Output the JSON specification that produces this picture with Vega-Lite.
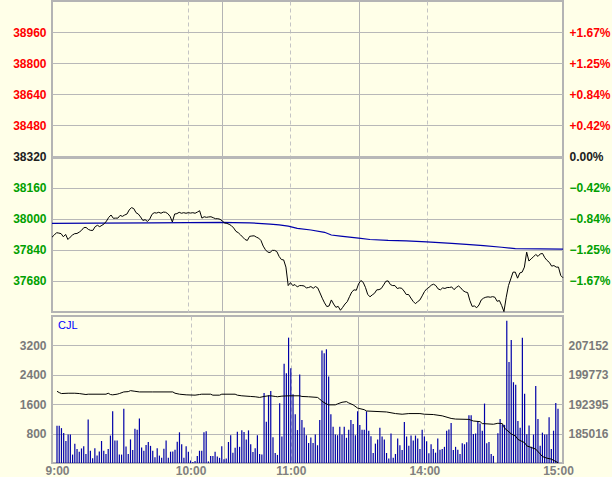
{
  "$schema": "https://vega.github.io/schema/vega-lite/v6.json",
  "background": "#FFFFE8",
  "padding": {"left": 11, "top": 0, "right": 0, "bottom": 0},
  "spacing": 0,
  "config": {
    "view": {"stroke": "#B4B4B4", "strokeWidth": 2, "fill": "#FFFFE8"},
    "font": "Liberation Sans",
    "axis": {"labelFont": "Liberation Sans", "labelFontSize": 12, "labelFontWeight": "bold", "ticks": false, "tickSize": 0, "domain": false, "title": null, "labelOverlap": false, "labelFlush": false, "labelPadding": 6}
  },
  "datasets": {
    "price": [
      {"m":0,"p":37905},{"m":1,"p":37916},{"m":2,"p":37928},{"m":3,"p":37926},{"m":4,"p":37923},{"m":5,"p":37907},{"m":6,"p":37919},{"m":7,"p":37893},{"m":8,"p":37905},{"m":9,"p":37916},
      {"m":10,"p":37923},{"m":11,"p":37924},{"m":12,"p":37931},{"m":13,"p":37940},{"m":14,"p":37954},{"m":15,"p":37955},{"m":16,"p":37945},{"m":17,"p":37940},{"m":18,"p":37940},{"m":19,"p":37959},
      {"m":20,"p":37966},{"m":21,"p":37959},{"m":22,"p":37966},{"m":23,"p":37974},{"m":24,"p":37988},{"m":25,"p":38007},{"m":26,"p":38019},{"m":27,"p":38002},{"m":28,"p":38003},{"m":29,"p":38003},
      {"m":30,"p":38017},{"m":31,"p":38012},{"m":32,"p":38019},{"m":33,"p":38024},{"m":34,"p":38045},{"m":35,"p":38057},{"m":36,"p":38052},{"m":37,"p":38031},{"m":38,"p":38024},{"m":39,"p":38009},
      {"m":40,"p":37991},{"m":41,"p":37995},{"m":42,"p":37986},{"m":43,"p":37997},{"m":44,"p":38022},{"m":45,"p":38031},{"m":46,"p":38029},{"m":47,"p":38033},{"m":48,"p":38028},{"m":49,"p":38034},
      {"m":50,"p":38033},{"m":51,"p":38026},{"m":52,"p":38012},{"m":53,"p":37983},{"m":54,"p":38024},{"m":55,"p":38026},{"m":56,"p":38033},{"m":57,"p":38028},{"m":58,"p":38031},{"m":59,"p":38028},
      {"m":60,"p":38031},{"m":61,"p":38029},{"m":62,"p":38031},{"m":63,"p":38028},{"m":64,"p":38034},{"m":65,"p":38041},{"m":66,"p":38003},{"m":67,"p":38010},{"m":68,"p":38007},{"m":69,"p":38009},
      {"m":70,"p":38010},{"m":71,"p":38005},{"m":72,"p":38000},{"m":73,"p":38000},{"m":74,"p":37997},{"m":75,"p":37988},{"m":76,"p":37978},{"m":77,"p":37976},{"m":78,"p":37971},{"m":79,"p":37964},
      {"m":80,"p":37952},{"m":81,"p":37935},{"m":82,"p":37928},{"m":83,"p":37917},{"m":84,"p":37905},{"m":85,"p":37893},{"m":86,"p":37888},{"m":87,"p":37909},{"m":88,"p":37911},{"m":89,"p":37912},
      {"m":90,"p":37905},{"m":91,"p":37900},{"m":92,"p":37888},{"m":93,"p":37859},{"m":94,"p":37840},{"m":95,"p":37828},{"m":96,"p":37826},{"m":97,"p":37837},{"m":98,"p":37837},{"m":99,"p":37831},
      {"m":100,"p":37806},{"m":101,"p":37790},{"m":102,"p":37788},{"m":103,"p":37751},{"m":104,"p":37656},{"m":105,"p":37671},{"m":106,"p":37656},{"m":107,"p":37661},{"m":108,"p":37649},{"m":109,"p":37656},
      {"m":110,"p":37656},{"m":111,"p":37654},{"m":112,"p":37644},{"m":113,"p":37646},{"m":114,"p":37651},{"m":115,"p":37642},{"m":116,"p":37651},{"m":117,"p":37644},{"m":118,"p":37618},{"m":119,"p":37591},
      {"m":120,"p":37567},{"m":121,"p":37548},{"m":122,"p":37551},{"m":123,"p":37582},{"m":124,"p":37561},{"m":125,"p":37544},{"m":126,"p":37549},{"m":127,"p":37529},{"m":128,"p":37544},{"m":129,"p":37561},
      {"m":130,"p":37573},{"m":131,"p":37599},{"m":132,"p":37623},{"m":133,"p":37634},{"m":134,"p":37632},{"m":135,"p":37665},{"m":136,"p":37682},{"m":137,"p":37673},{"m":138,"p":37647},{"m":139,"p":37611},
      {"m":140,"p":37598},{"m":141,"p":37608},{"m":142,"p":37616},{"m":143,"p":37634},{"m":144,"p":37635},{"m":145,"p":37641},{"m":146,"p":37659},{"m":147,"p":37678},{"m":148,"p":37680},{"m":149,"p":37661},
      {"m":150,"p":37656},{"m":151,"p":37656},{"m":152,"p":37641},{"m":153,"p":37644},{"m":154,"p":37642},{"m":155,"p":37628},{"m":156,"p":37610},{"m":157,"p":37610},{"m":158,"p":37592},{"m":159,"p":37575},
      {"m":160,"p":37563},{"m":161,"p":37573},{"m":162,"p":37582},{"m":163,"p":37603},{"m":164,"p":37625},{"m":165,"p":37639},{"m":166,"p":37647},{"m":167,"p":37658},{"m":168,"p":37663},{"m":169,"p":37656},
      {"m":170,"p":37639},{"m":171,"p":37634},{"m":172,"p":37644},{"m":173,"p":37641},{"m":174,"p":37646},{"m":175,"p":37646},{"m":176,"p":37649},{"m":177,"p":37635},{"m":178,"p":37646},{"m":179,"p":37654},
      {"m":180,"p":37644},{"m":181,"p":37630},{"m":182,"p":37623},{"m":183,"p":37620},{"m":184,"p":37579},{"m":185,"p":37549},{"m":186,"p":37551},{"m":187,"p":37542},{"m":188,"p":37556},{"m":189,"p":37582},
      {"m":190,"p":37591},{"m":191,"p":37596},{"m":192,"p":37598},{"m":193,"p":37596},{"m":194,"p":37599},{"m":195,"p":37596},{"m":196,"p":37575},{"m":197,"p":37579},{"m":198,"p":37553},{"m":199,"p":37522},
      {"m":200,"p":37596},{"m":201,"p":37656},{"m":202,"p":37690},{"m":203,"p":37725},{"m":204,"p":37725},{"m":205,"p":37694},{"m":206,"p":37721},{"m":207,"p":37725},{"m":208,"p":37751},{"m":209,"p":37828},
      {"m":210,"p":37782},{"m":211,"p":37794},{"m":212,"p":37804},{"m":213,"p":37816},{"m":214,"p":37806},{"m":215,"p":37819},{"m":216,"p":37821},{"m":217,"p":37799},{"m":218,"p":37785},{"m":219,"p":37775},
      {"m":220,"p":37756},{"m":221,"p":37759},{"m":222,"p":37751},{"m":223,"p":37751},{"m":224,"p":37708},{"m":225,"p":37696}
    ],
    "avg": [
      {"m":0,"a":37976},{"m":20,"a":37977},{"m":44,"a":37979},{"m":75,"a":37981},{"m":80,"a":37980},{"m":87,"a":37979},{"m":96,"a":37972},{"m":100,"a":37968},{"m":104,"a":37962},{"m":108,"a":37950},
      {"m":114,"a":37942},{"m":120,"a":37930},{"m":123,"a":37916},{"m":127,"a":37910},{"m":135,"a":37900},{"m":140,"a":37893},{"m":148,"a":37888},{"m":156,"a":37886},{"m":165,"a":37881},{"m":176,"a":37873},
      {"m":184,"a":37867},{"m":190,"a":37861},{"m":198,"a":37853},{"m":204,"a":37846},{"m":215,"a":37845},{"m":225,"a":37843}
    ],
    "vol": [
      {"m":0,"v":1011},{"m":1,"v":1011},{"m":2,"v":949},{"m":3,"v":817},{"m":4,"v":598},{"m":5,"v":774},{"m":6,"v":774},{"m":7,"v":229},{"m":8,"v":527},{"m":9,"v":378},
      {"m":10,"v":308},{"m":11,"v":396},{"m":12,"v":457},{"m":13,"v":246},{"m":14,"v":1187},{"m":15,"v":334},{"m":16,"v":132},{"m":17,"v":404},{"m":18,"v":202},{"m":19,"v":316},
      {"m":20,"v":598},{"m":21,"v":334},{"m":22,"v":246},{"m":23,"v":378},{"m":24,"v":747},{"m":25,"v":1406},{"m":26,"v":615},{"m":27,"v":615},{"m":28,"v":229},{"m":29,"v":229},
      {"m":30,"v":1477},{"m":31,"v":448},{"m":32,"v":246},{"m":33,"v":642},{"m":34,"v":352},{"m":35,"v":932},{"m":36,"v":905},{"m":37,"v":1213},{"m":38,"v":422},{"m":39,"v":334},
      {"m":40,"v":492},{"m":41,"v":571},{"m":42,"v":466},{"m":43,"v":334},{"m":44,"v":158},{"m":45,"v":404},{"m":46,"v":202},{"m":47,"v":141},{"m":48,"v":387},{"m":49,"v":615},
      {"m":50,"v":141},{"m":51,"v":308},{"m":52,"v":316},{"m":53,"v":360},{"m":54,"v":580},{"m":55,"v":835},{"m":56,"v":510},{"m":57,"v":141},{"m":58,"v":457},{"m":59,"v":308},
      {"m":60,"v":70},{"m":61,"v":26},{"m":62,"v":53},{"m":63,"v":193},{"m":64,"v":334},{"m":65,"v":334},{"m":66,"v":835},{"m":67,"v":861},{"m":68,"v":44},{"m":69,"v":193},
      {"m":70,"v":193},{"m":71,"v":308},{"m":72,"v":176},{"m":73,"v":141},{"m":74,"v":457},{"m":75,"v":105},{"m":76,"v":123},{"m":77,"v":571},{"m":78,"v":756},{"m":79,"v":281},
      {"m":80,"v":413},{"m":81,"v":853},{"m":82,"v":440},{"m":83,"v":888},{"m":84,"v":844},{"m":85,"v":642},{"m":86,"v":888},{"m":87,"v":510},{"m":88,"v":299},{"m":89,"v":404},
      {"m":90,"v":756},{"m":91,"v":246},{"m":92,"v":229},{"m":93,"v":1907},{"m":94,"v":1125},{"m":95,"v":1846},{"m":96,"v":1960},{"m":97,"v":703},{"m":98,"v":272},{"m":99,"v":220},
      {"m":100,"v":1626},{"m":101,"v":721},{"m":102,"v":2699},{"m":103,"v":2444},{"m":104,"v":3411},{"m":105,"v":2575},{"m":106,"v":1872},{"m":107,"v":1327},{"m":108,"v":897},{"m":109,"v":2408},
      {"m":110,"v":1169},{"m":111,"v":967},{"m":112,"v":756},{"m":113,"v":545},{"m":114,"v":694},{"m":115,"v":545},{"m":116,"v":774},{"m":117,"v":483},{"m":118,"v":1169},{"m":119,"v":3059},
      {"m":120,"v":2989},{"m":121,"v":3094},{"m":122,"v":2356},{"m":123,"v":1327},{"m":124,"v":984},{"m":125,"v":774},{"m":126,"v":756},{"m":127,"v":984},{"m":128,"v":774},{"m":129,"v":984},
      {"m":130,"v":686},{"m":131,"v":905},{"m":132,"v":1169},{"m":133,"v":1064},{"m":134,"v":756},{"m":135,"v":1406},{"m":136,"v":1037},{"m":137,"v":905},{"m":138,"v":905},{"m":139,"v":1406},
      {"m":140,"v":879},{"m":141,"v":730},{"m":142,"v":272},{"m":143,"v":527},{"m":144,"v":642},{"m":145,"v":958},{"m":146,"v":721},{"m":147,"v":642},{"m":148,"v":272},{"m":149,"v":123},
      {"m":150,"v":800},{"m":151,"v":141},{"m":152,"v":246},{"m":153,"v":668},{"m":154,"v":483},{"m":155,"v":352},{"m":156,"v":1116},{"m":157,"v":721},{"m":158,"v":466},{"m":159,"v":747},
      {"m":160,"v":615},{"m":161,"v":747},{"m":162,"v":668},{"m":163,"v":378},{"m":164,"v":905},{"m":165,"v":721},{"m":166,"v":589},{"m":167,"v":264},{"m":168,"v":510},{"m":169,"v":378},
      {"m":170,"v":281},{"m":171,"v":668},{"m":172,"v":360},{"m":173,"v":378},{"m":174,"v":440},{"m":175,"v":879},{"m":176,"v":914},{"m":177,"v":1090},{"m":178,"v":352},{"m":179,"v":440},
      {"m":180,"v":360},{"m":181,"v":246},{"m":182,"v":536},{"m":183,"v":510},{"m":184,"v":563},{"m":185,"v":1301},{"m":186,"v":1301},{"m":187,"v":791},{"m":188,"v":800},{"m":189,"v":1143},
      {"m":190,"v":1072},{"m":191,"v":879},{"m":192,"v":1617},{"m":193,"v":536},{"m":194,"v":571},{"m":195,"v":246},{"m":196,"v":193},{"m":198,"v":809},{"m":199,"v":1195},
      {"m":200,"v":1046},{"m":201,"v":1037},{"m":202,"v":3868},{"m":203,"v":2751},{"m":204,"v":3349},{"m":205,"v":2198},{"m":206,"v":2127},{"m":207,"v":1143},{"m":208,"v":958},{"m":209,"v":3411},
      {"m":210,"v":1881},{"m":211,"v":782},{"m":212,"v":1020},{"m":213,"v":440},{"m":214,"v":774},{"m":215,"v":2092},{"m":216,"v":1195},{"m":217,"v":466},{"m":218,"v":826},{"m":219,"v":774},
      {"m":220,"v":774},{"m":221,"v":1248},{"m":222,"v":378},{"m":223,"v":879},{"m":224,"v":1635},{"m":225,"v":1477}
    ],
    "oi": [
      {"m":0,"o":195635},{"m":1,"o":195311},{"m":2,"o":195068},{"m":5,"o":195149},{"m":8,"o":195149},{"m":10,"o":195068},{"m":13,"o":194824},{"m":14,"o":194905},{"m":22,"o":194905},{"m":23,"o":195149},
      {"m":24,"o":194824},{"m":25,"o":194743},{"m":27,"o":194905},{"m":28,"o":195068},{"m":30,"o":195473},{"m":32,"o":195554},{"m":33,"o":195797},{"m":35,"o":195635},{"m":37,"o":195473},{"m":43,"o":195473},
      {"m":52,"o":195473},{"m":53,"o":195149},{"m":55,"o":194905},{"m":58,"o":194743},{"m":62,"o":194662},{"m":64,"o":194824},{"m":65,"o":194905},{"m":69,"o":194905},{"m":70,"o":194662},{"m":73,"o":194662},
      {"m":74,"o":194905},{"m":80,"o":194905},{"m":81,"o":194662},{"m":83,"o":194500},{"m":87,"o":194338},{"m":89,"o":194257},{"m":91,"o":194095},{"m":93,"o":194338},{"m":95,"o":194500},{"m":96,"o":194500},
      {"m":98,"o":194338},{"m":99,"o":194257},{"m":101,"o":194419},{"m":104,"o":194500},{"m":109,"o":194500},{"m":110,"o":194338},{"m":113,"o":194257},{"m":117,"o":194095},{"m":118,"o":193689},{"m":119,"o":193122},
      {"m":121,"o":192473},{"m":122,"o":192230},{"m":125,"o":192230},{"m":126,"o":192473},{"m":128,"o":192878},{"m":130,"o":193041},{"m":131,"o":192716},{"m":133,"o":192230},{"m":135,"o":191419},{"m":138,"o":191014},
      {"m":139,"o":190689},{"m":148,"o":190446},{"m":152,"o":190041},{"m":155,"o":189879},{"m":158,"o":190041},{"m":163,"o":190041},{"m":165,"o":189879},{"m":169,"o":189798},{"m":173,"o":189474},{"m":177,"o":188825},
      {"m":179,"o":188663},{"m":185,"o":188582},{"m":187,"o":188176},{"m":190,"o":188014},{"m":191,"o":187528},{"m":196,"o":187366},{"m":198,"o":187609},{"m":200,"o":187528},{"m":201,"o":186393},{"m":203,"o":185420},
      {"m":204,"o":184934},{"m":206,"o":184366},{"m":207,"o":183556},{"m":210,"o":182745},{"m":211,"o":181934},{"m":213,"o":181528},{"m":215,"o":181123},{"m":217,"o":179907},{"m":218,"o":179258},{"m":220,"o":178853},
      {"m":222,"o":178610},{"m":225,"o":177718}
    ],
    "lbl": [{"t": "CJL", "m": 0, "v": 4000}]
  },
  "vconcat": [
    {
      "width": 511,
      "height": 311,
      "layer": [
        {
          "data": {"name": "avg"},
          "mark": {"type": "line", "color": "#0000AA", "strokeWidth": 1.2},
          "encoding": {
            "x": {"field": "m", "type": "quantitative", "scale": {"domain": [0, 225], "nice": false, "zero": false},
              "axis": {"values": [60, 75, 105, 135, 165], "labels": false, "grid": true, "labelPadding": 0, "minExtent": 0, "maxExtent": 0,
                "gridColor": {"condition": {"test": "datum.value == 75 || datum.value == 135", "value": "#B4B4B4"}, "value": "#C4C4C4"},
                "gridDash": {"condition": {"test": "datum.value == 75 || datum.value == 135", "value": []}, "value": [4, 3]},
                "gridWidth": 1}},
            "y": {"field": "a", "type": "quantitative", "scale": {"domain": [37520, 39120], "nice": false, "zero": false},
              "axis": {"orient": "right", "grid": false, "values": [37680, 37840, 38000, 38160, 38320, 38480, 38640, 38800, 38960],
                "labelExpr": "(datum.value > 38320 ? '+' : '') + format((datum.value - 38320) / 38320 * 100, '.2f') + '%'",
                "labelColor": {"condition": [{"test": "datum.value > 38320", "value": "#FF0000"}, {"test": "datum.value < 38320", "value": "#00A000"}], "value": "#202020"},
                "labelPadding": 6}}
          }
        },
        {
          "data": {"name": "price"},
          "mark": {"type": "line", "color": "#000000", "strokeWidth": 1},
          "encoding": {
            "x": {"field": "m", "type": "quantitative", "scale": {"domain": [0, 225], "nice": false, "zero": false}},
            "y": {"field": "p", "type": "quantitative", "scale": {"domain": [37520, 39120], "nice": false, "zero": false},
              "axis": {"orient": "left", "grid": true, "format": "d", "values": [37680, 37840, 38000, 38160, 38320, 38480, 38640, 38800, 38960],
                "gridColor": "#B8B8B8",
                "gridWidth": {"condition": {"test": "datum.value == 38320", "value": 3}, "value": 1},
                "labelColor": {"condition": [{"test": "datum.value > 38320", "value": "#FF0000"}, {"test": "datum.value < 38320", "value": "#00A000"}], "value": "#202020"},
                "labelPadding": 6}}
          }
        }
      ],
      "resolve": {"scale": {"y": "independent"}}
    },
    {
      "width": 511,
      "height": 147,
      "layer": [
        {
          "data": {"name": "vol"},
          "mark": {"type": "bar", "color": "#0000A8", "size": 1.2, "orient": "vertical"},
          "encoding": {
            "x": {"field": "m", "type": "quantitative", "scale": {"domain": [0, 225], "nice": false, "zero": false},
              "axis": {"values": [0, 60, 75, 105, 135, 165, 225], "grid": true, "labelPadding": 2, "labelColor": "#808080",
                "labelExpr": "datum.value == 0 ? '9:00' : datum.value == 60 ? '10:00' : datum.value == 105 ? '11:00' : datum.value == 165 ? '14:00' : datum.value == 225 ? '15:00' : ''",
                "gridColor": {"condition": {"test": "datum.value == 75 || datum.value == 135", "value": "#B4B4B4"}, "value": "#C4C4C4"},
                "gridDash": {"condition": {"test": "datum.value == 75 || datum.value == 135", "value": []}, "value": [4, 3]},
                "gridOpacity": {"condition": {"test": "datum.value == 0 || datum.value == 225", "value": 0}, "value": 1},
                "gridWidth": 1}},
            "y": {"field": "v", "type": "quantitative", "scale": {"domain": [0, 4000], "nice": false},
              "axis": {"orient": "left", "grid": true, "format": "d", "values": [800, 1600, 2400, 3200], "gridColor": "#B8B8B8", "gridWidth": 1, "labelColor": "#7A7A7A", "labelPadding": 6}}
          }
        },
        {
          "data": {"name": "oi"},
          "mark": {"type": "line", "color": "#000000", "strokeWidth": 1},
          "encoding": {
            "x": {"field": "m", "type": "quantitative", "scale": {"domain": [0, 225], "nice": false, "zero": false}},
            "y": {"field": "o", "type": "quantitative", "scale": {"domain": [177637.2, 214530.6], "nice": false, "zero": false},
              "axis": {"orient": "right", "grid": false, "values": [185016, 192395, 199773, 207152], "format": "d", "labelColor": "#7A7A7A", "labelPadding": 5}}
          }
        },
        {
          "data": {"name": "lbl"},
          "mark": {"type": "text", "color": "#0000FF", "align": "left", "baseline": "top", "dx": 1, "dy": 4, "fontSize": 11, "font": "Liberation Sans"},
          "encoding": {
            "x": {"field": "m", "type": "quantitative", "scale": {"domain": [0, 225], "nice": false, "zero": false}},
            "y": {"field": "v", "type": "quantitative", "scale": {"domain": [0, 4000], "nice": false}, "axis": null},
            "text": {"field": "t"}
          }
        }
      ],
      "resolve": {"scale": {"y": "independent"}}
    }
  ]
}
